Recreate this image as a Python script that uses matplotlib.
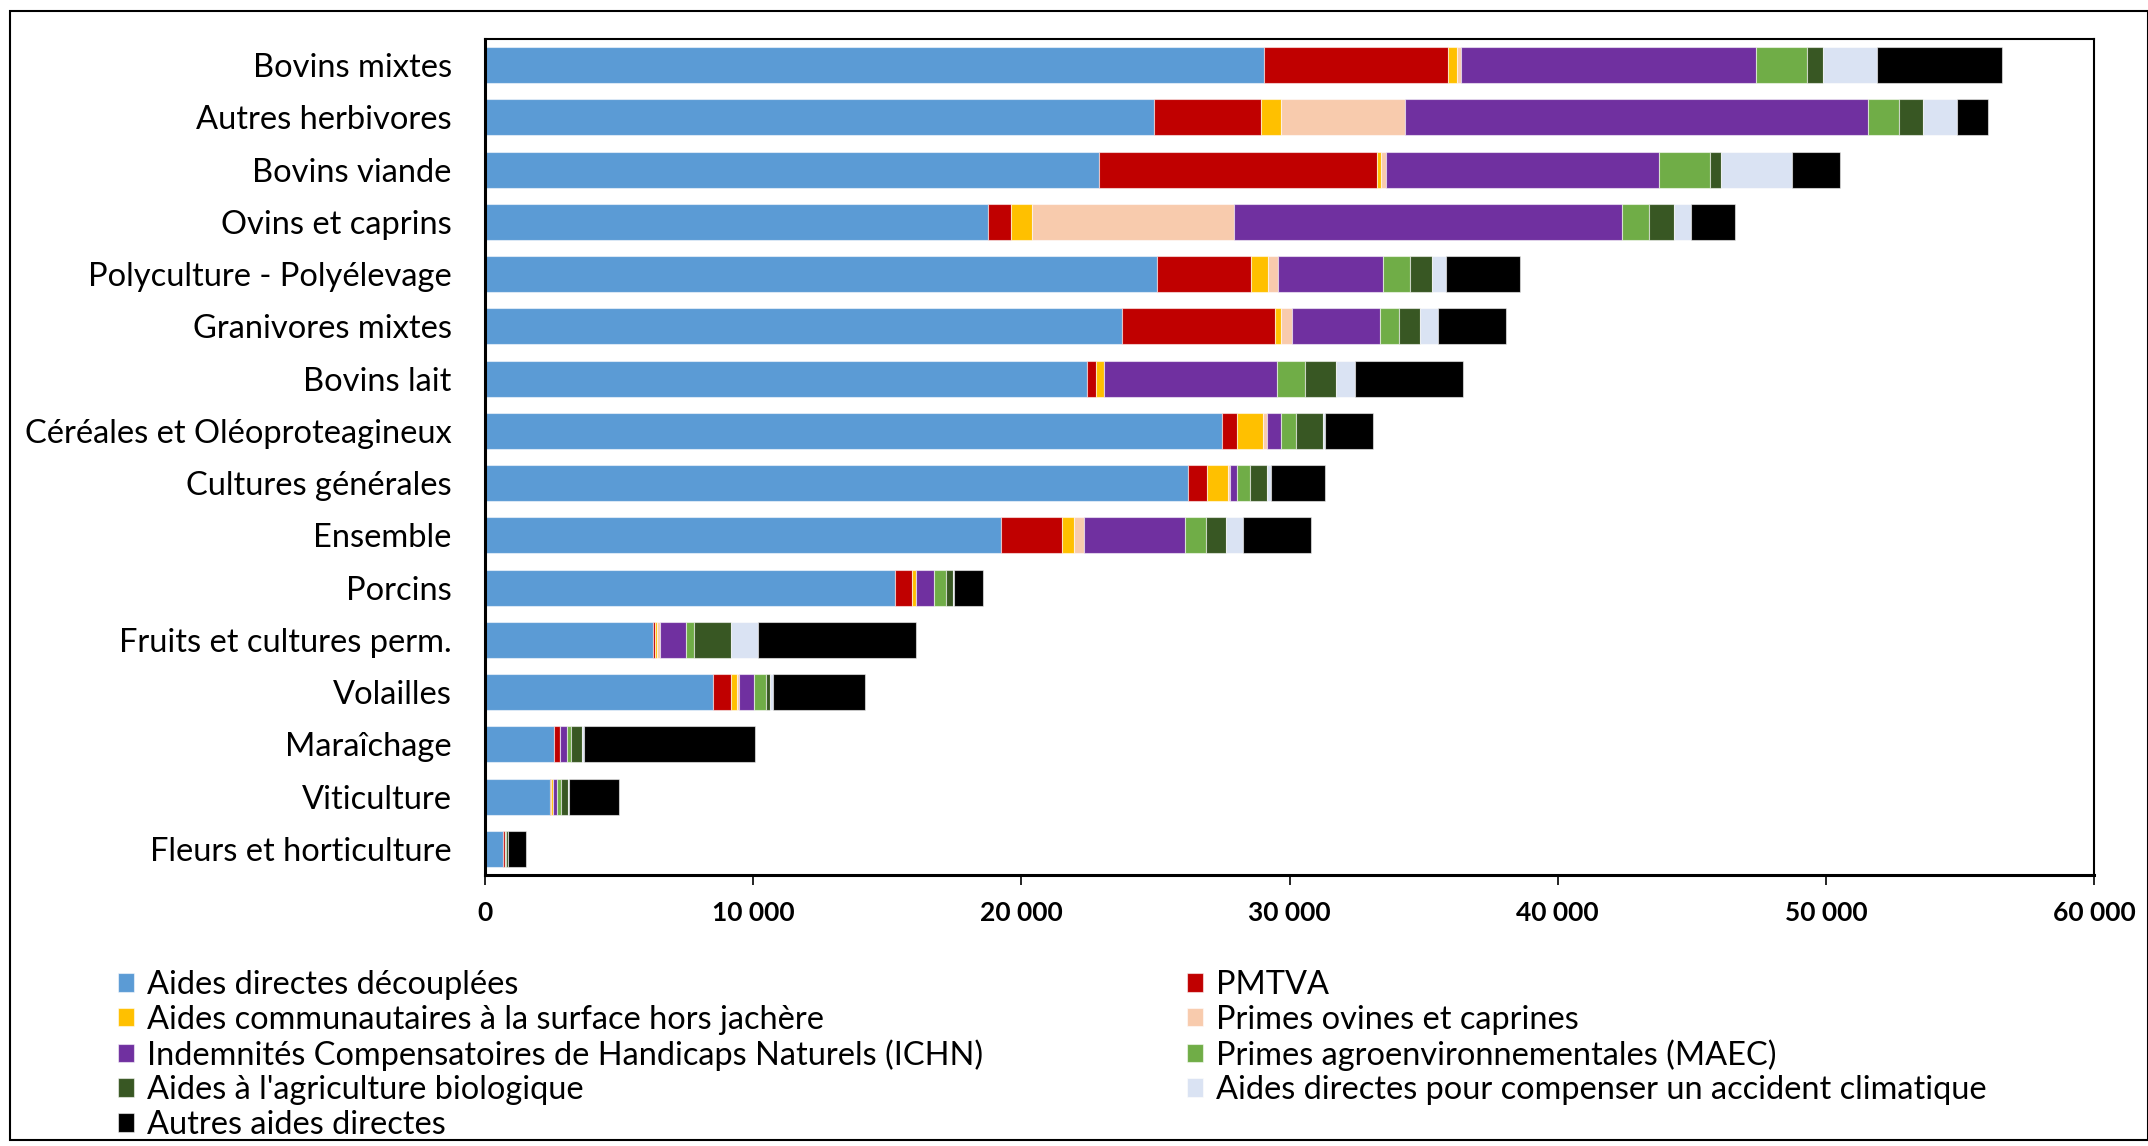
import matplotlib
matplotlib.use('Agg')
import matplotlib.pyplot as plt
import matplotlib.patches as patches
from matplotlib.ticker import FuncFormatter
import numpy as np

plt.rcParams['font.family'] = ['Lato', 'DejaVu Sans']

# categories, top to bottom
categories = [
    "Bovins mixtes", "Autres herbivores", "Bovins viande", "Ovins et caprins",
    "Polyculture - Polyélevage", "Granivores mixtes", "Bovins lait",
    "Céréales et Oléoproteagineux", "Cultures générales", "Ensemble", "Porcins",
    "Fruits et cultures perm.", "Volailles", "Maraîchage", "Viticulture",
    "Fleurs et horticulture",
]

aides_decouplees = [29060, 24930, 22880, 18770, 25050, 23770, 22455, 27470, 26210, 19230, 15290, 6265, 8490, 2580, 2420, 670]
pmtva = [6850, 4015, 10385, 830, 3525, 5700, 325, 580, 730, 2275, 630, 65, 680, 215, 30, 65]
surface = [325, 745, 165, 800, 630, 225, 320, 945, 770, 465, 150, 85, 225, 0, 70, 0]
ovines = [160, 4630, 160, 7540, 375, 410, 0, 160, 80, 385, 0, 115, 75, 0, 0, 0]
ichn = [11010, 17255, 10180, 14465, 3910, 3275, 6430, 520, 265, 3745, 680, 965, 550, 270, 160, 20]
maec = [1900, 1155, 1900, 1005, 1005, 685, 1055, 585, 465, 795, 430, 300, 470, 150, 160, 20]
bio = [585, 905, 425, 930, 835, 795, 1155, 990, 635, 730, 265, 1380, 150, 400, 250, 70]
climat = [2000, 1265, 2645, 635, 520, 680, 685, 75, 150, 635, 50, 1000, 110, 60, 60, 0]
autres = [4690, 1155, 1775, 1640, 2740, 2535, 4060, 1790, 2010, 2525, 1060, 5905, 3425, 6390, 1850, 670]

series = [
    ("Aides directes découplées", aides_decouplees, '#5B9BD5'),
    ("PMTVA", pmtva, '#C00000'),
    ("Aides communautaires à la surface hors jachère", surface, '#FFC000'),
    ("Primes ovines et caprines", ovines, '#F8CBAD'),
    ("Indemnités Compensatoires de Handicaps Naturels (ICHN)", ichn, '#7030A0'),
    ("Primes agroenvironnementales (MAEC)", maec, '#70AD47'),
    ("Aides à l'agriculture biologique", bio, '#385723'),
    ("Aides directes pour compenser un accident climatique", climat, '#DAE3F3'),
    ("Autres aides directes", autres, '#000000'),
]

W, H = 2148, 1146
fig = plt.figure(figsize=(W / 100, H / 100), dpi=100)
ax = fig.add_axes([485 / W, 1 - 875 / H, (2094 - 485) / W, (875 - 39) / H])

y = np.arange(len(categories))
left = np.zeros(len(categories))
handles = []
for name, vals, color in series:
    vals = np.array(vals, dtype=float)
    b = ax.barh(y, vals, left=left, height=0.69, color=color,
                edgecolor=(1, 1, 1, 0.55), linewidth=0.8, label=name, zorder=2)
    handles.append(b)
    left += vals

ax.set_ylim(len(categories) - 0.5, -0.5)
ax.set_xlim(0, 60000)
ax.set_xticks(np.arange(0, 60001, 10000))
ax.xaxis.set_major_formatter(FuncFormatter(lambda v, p: f"{int(v):,}".replace(",", " ")))
ax.set_yticks(y)
ax.set_yticklabels(categories, fontsize=23.5)
ax.tick_params(axis='y', length=0, pad=24)
ax.tick_params(axis='x', length=7, width=1.2, direction='out', pad=12, labelsize=19)
for lbl in ax.get_xticklabels():
    lbl.set_fontweight('bold')
for s in ax.spines.values():
    s.set_color('black')
    s.set_linewidth(1.5)
ax.spines['bottom'].set_linewidth(2.2)
ax.spines['left'].set_linewidth(2.2)

# legend: two columns filled row by row
col1 = [handles[i] for i in (0, 2, 4, 6, 8)]
col2 = [handles[i] for i in (1, 3, 5, 7)]
leg_kw = dict(frameon=False, fontsize=23.4, handlelength=0.5, handleheight=0.5,
              handletextpad=0.4, labelspacing=0.14, borderpad=0, borderaxespad=0)
leg1 = fig.legend(handles=col1, labels=[h.get_label() for h in col1], loc='upper left',
                  bbox_to_anchor=(118 / W, 1 - 970 / H), **leg_kw)
leg2 = fig.legend(handles=col2, labels=[h.get_label() for h in col2], loc='upper left',
                  bbox_to_anchor=(1187 / W, 1 - 970 / H), **leg_kw)

# outer frame
fig.patches.append(patches.Rectangle((10 / W, 6 / H), 1 - 10 / W, 1 - 17 / H, transform=fig.transFigure,
                                     fill=False, edgecolor='black', linewidth=1.5))

fig.savefig('out.png', dpi=100)
